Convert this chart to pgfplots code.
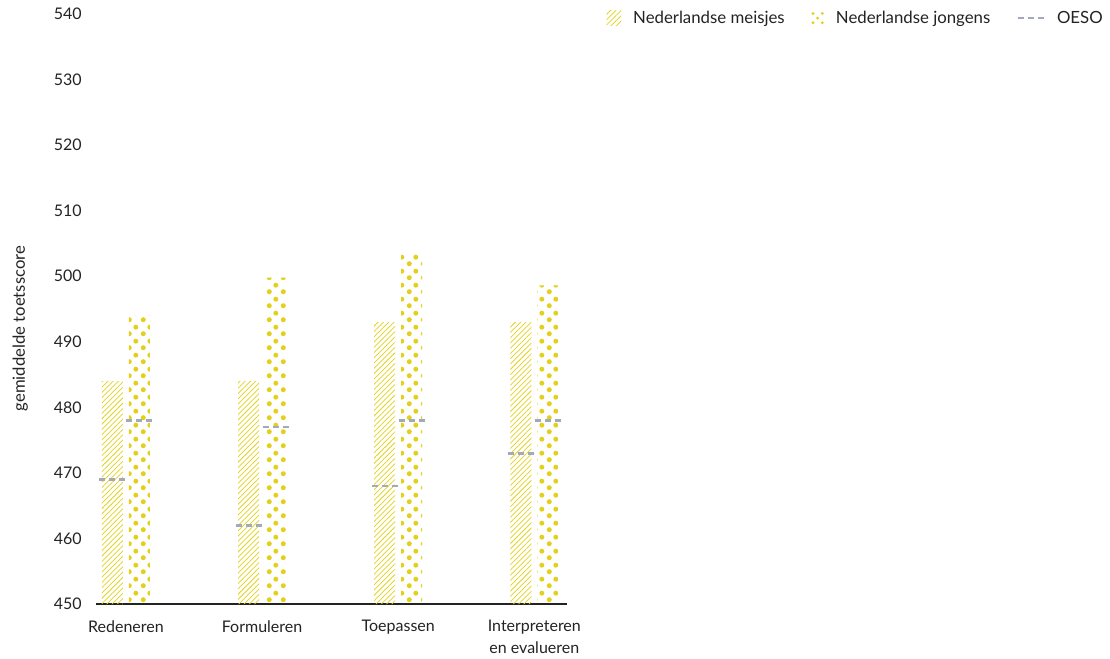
\documentclass[border=0pt]{standalone}
\usepackage{fontspec}
\setmainfont{Lato}
\usepackage{pgfplots}
\pgfplotsset{compat=1.18}
\usetikzlibrary{patterns.meta}
\definecolor{ylw}{RGB}{226,209,27}
\definecolor{oeso}{RGB}{163,169,189}
\definecolor{txt}{RGB}{35,35,35}
\tikzdeclarepattern{name=diadots, type=uncolored,
  bottom left={(0pt,0pt)}, top right={(10.5pt,10.5pt)}, tile size={(10.5pt,10.5pt)},
  code={\fill (2.625pt,2.625pt) circle (2pt); \fill (7.875pt,7.875pt) circle (2pt);}}
\pgfdeclareplotmark{oeso}{%
  \pgfsetlinewidth{2pt}\pgfsetdash{{4.5pt}{3pt}}{0pt}%
  \pgfpathmoveto{\pgfqpoint{-9.75pt}{0pt}}\pgfpathlineto{\pgfqpoint{9.75pt}{0pt}}\pgfusepathqstroke}
\begin{document}
\begin{tikzpicture}
\path[use as bounding box] (0,0) rectangle (832.5pt,493.5pt);
\begin{axis}[
  at={(72pt,40.5pt)}, anchor=south west,
  scale only axis, width=353.25pt, height=442.5pt,
  xmin=-0.22, xmax=3.24, ymin=450, ymax=540,
  axis x line*=bottom, axis y line*=left,
  x axis line style={-, draw=txt, line width=0.9pt},
  y axis line style={draw=none},
  major tick length=0pt,
  xtick={0,1,2,3},
  xticklabels={Redeneren, Formuleren, Toepassen, {Interpreteren\\en evalueren}},
  ytick={450,460,...,540},
  /pgf/number format/assume math mode=true,
  /pgf/number format/1000 sep={},
  tick label style={font=\fontsize{12}{16}\selectfont, text=txt, inner sep=0pt},
  xticklabel style={align=center, anchor=north},
  xticklabel shift=12pt,
  yticklabel shift=10.5pt,
  ylabel={gemiddelde toetsscore},
  ylabel style={at={(axis description cs:-0.161,0.467)}, anchor=center, font=\fontsize{12.5}{14}\selectfont, text=txt},
  legend columns=3,
  legend style={at={(axis description cs:2.138,0.993)}, anchor=east, draw=none, fill=none,
    inner sep=0pt, font=\fontsize{12.6}{14}\selectfont, text=txt,
    nodes={inner sep=0pt},
    /tikz/every odd column/.append style={column sep=9pt},
    /tikz/every even column/.append style={column sep=20pt}},
  legend cell align=left,
  clip=true,
]
\addplot[ybar, bar width=15.75pt, bar shift=-10.125pt, draw=none,
  pattern={Lines[angle=45, distance=2.8pt, line width=0.55pt]}, pattern color=ylw,
  legend image code/.code={\path[pattern={Lines[angle=45, distance=2.8pt, line width=0.6pt]}, pattern color=ylw] (0pt,-5.5pt) rectangle (11pt,5.5pt);}]
  coordinates {(0,484) (1,484) (2,493) (3,493)};
\addlegendentry{Nederlandse meisjes}
\addplot[ybar, bar width=15.75pt, bar shift=10.125pt, draw=none,
  pattern={diadots}, pattern color=ylw,
  legend image code/.code={\fill[ylw] (1.5pt,3.5pt) circle (1.2pt); \fill[ylw] (8.5pt,3.5pt) circle (1.2pt); \fill[ylw] (5pt,0pt) circle (1.2pt); \fill[ylw] (1.5pt,-3.5pt) circle (1.2pt); \fill[ylw] (8.5pt,-3.5pt) circle (1.2pt);}]
  coordinates {(0,494) (1,499.8) (2,503.5) (3,498.6)};
\addlegendentry{Nederlandse jongens}
\addplot[only marks, mark=oeso, color=oeso,
  legend image code/.code={\draw[oeso, line width=1pt, dash pattern=on 5pt off 2.5pt] (0pt,0pt) -- (20pt,0pt);}]
  coordinates {(-0.0993,469) (0.9007,462) (1.9007,468) (2.9007,473)};
\addlegendentry{OESO}
\addplot[only marks, mark=oeso, color=oeso, forget plot]
  coordinates {(0.0993,478) (1.0993,477) (2.0993,478) (3.0993,478)};
\end{axis}
\end{tikzpicture}
\end{document}
